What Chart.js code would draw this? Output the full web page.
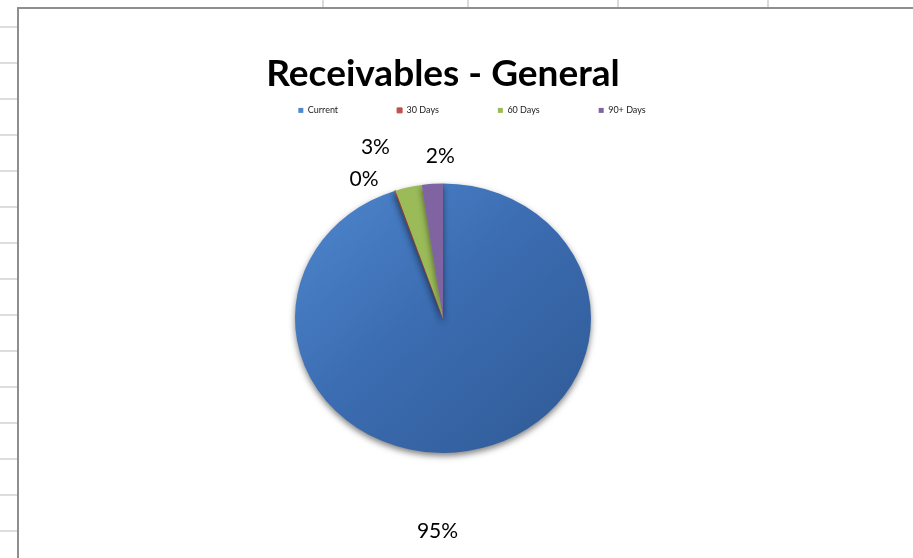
<!DOCTYPE html>
<html>
<head>
<meta charset="utf-8">
<script src="https://cdn.jsdelivr.net/npm/chart.js@4.4.1/dist/chart.umd.min.js"></script>
<style>
  body { margin: 0; background: #fff; width: 913px; height: 558px; overflow: hidden; position: relative; }
  .hline { position: absolute; left: 0; width: 17px; height: 2px; background: #dddddd; }
  .vline { position: absolute; top: 0; width: 2px; height: 7px; background: #dadada; }
  #frame { position: absolute; left: 17px; top: 7px; width: 910px; height: 560px;
           border-left: 2px solid #8e8e8e; border-top: 2px solid #8e8e8e; background: #fff; }
  #wrap { position: absolute; left: 19px; top: 9px; width: 894px; height: 549px; }
</style>
</head>
<body>
<div id="frame"></div>
<div id="wrap"><canvas id="recvChart"></canvas></div>
<script>
// sheet grid behind the chart object
for (let k = 0; k < 15; k++) {
    const d = document.createElement('div');
    d.className = 'hline';
    d.style.top = (26 + 36 * k) + 'px';
    document.body.appendChild(d);
}
[322, 467, 617, 767].forEach(x => {
    const d = document.createElement('div');
    d.className = 'vline';
    d.style.left = x + 'px';
    document.body.appendChild(d);
});

const agingLabels = ['Current', '30 Days', '60 Days', '90+ Days'];
const agingValues = [94.7, 0.1, 2.9, 2.3];
const agingColors = ['#3d6fb4', '#c0504d', '#9bbb59', '#8064a2'];

// where each percent label sits relative to its slice's outer edge (Excel "best fit")
const labelNudge = [[-30, 80], [-31, -12], [-33, -40], [8, -28]];

const squash = 0.91;   // pie is drawn slightly flattened

function sliceFill(context) {
    const chart = context.chart;
    const i = context.dataIndex;
    if (i !== 0 || !chart.chartArea) return agingColors[i];
    const a = chart.chartArea;
    const cx = (a.left + a.right) / 2, cy = (a.top + a.bottom) / 2;
    const g = chart.ctx.createLinearGradient(cx - 150, cy - 150, cx + 150, cy + 150);
    g.addColorStop(0, '#4f88cf');
    g.addColorStop(0.45, '#3c6db2');
    g.addColorStop(1, '#2f5994');
    return g;
}

const pieLook = {
    id: 'pieLook',
    beforeDatasetsDraw(chart) {
        const arc = chart.getDatasetMeta(0).data[0];
        const ctx = chart.ctx;
        ctx.save();
        ctx.translate(arc.x, arc.y);
        ctx.scale(1, squash);
        ctx.translate(-arc.x, -arc.y);
        ctx.shadowColor = 'rgba(0,0,0,0.5)';
        ctx.shadowBlur = 6;
        ctx.shadowOffsetY = 3;
    },
    afterDatasetsDraw(chart) {
        const ctx = chart.ctx;
        ctx.restore();
        const total = agingValues.reduce((s, v) => s + v, 0);
        ctx.save();
        ctx.font = '21px Lato';
        ctx.fillStyle = '#000';
        ctx.textAlign = 'center';
        ctx.textBaseline = 'middle';
        chart.getDatasetMeta(0).data.forEach((arc, i) => {
            const mid = (arc.startAngle + arc.endAngle) / 2;
            const x = arc.x + Math.cos(mid) * arc.outerRadius + labelNudge[i][0];
            const y = arc.y + Math.sin(mid) * arc.outerRadius * squash + labelNudge[i][1];
            ctx.fillText(Math.round(agingValues[i] / total * 100) + '%', x, y);
        });
        ctx.restore();
    }
};

// Excel keeps the legend a bit right of centre and tight under the title
const legendShift = {
    id: 'legendShift',
    afterLayout(chart) {
        const lg = chart.legend;
        lg.left += 29; lg.right += 29;
        lg.top -= 49.5; lg.bottom -= 49.5;
    }
};

const ctxRecv = document.getElementById('recvChart').getContext('2d');
const recvChart = new Chart(ctxRecv, {
    type: 'pie',
    data: {
        labels: agingLabels,
        datasets: [{
            data: agingValues,
            backgroundColor: sliceFill,
            borderColor: agingColors,
            borderWidth: [0, 1, 0, 0]
        }]
    },
    options: {
        responsive: true,
        maintainAspectRatio: false,
        animation: false,
        radius: 148,
        layout: { padding: { left: 0, right: 46, top: 0, bottom: 96 } },
        plugins: {
            title: {
                display: true,
                text: 'Receivables - General',
                color: '#000',
                font: { family: 'Lato', size: 37, weight: 'bold' },
                padding: { top: 43, bottom: 0 }
            },
            legend: {
                position: 'top',
                labels: {
                    boxWidth: 5,
                    boxHeight: 5,
                    padding: 59,
                    color: '#222',
                    font: { family: 'Lato', size: 9 }
                }
            },
            tooltip: { enabled: false }
        }
    },
    plugins: [pieLook, legendShift]
});
</script>
</body>
</html>
